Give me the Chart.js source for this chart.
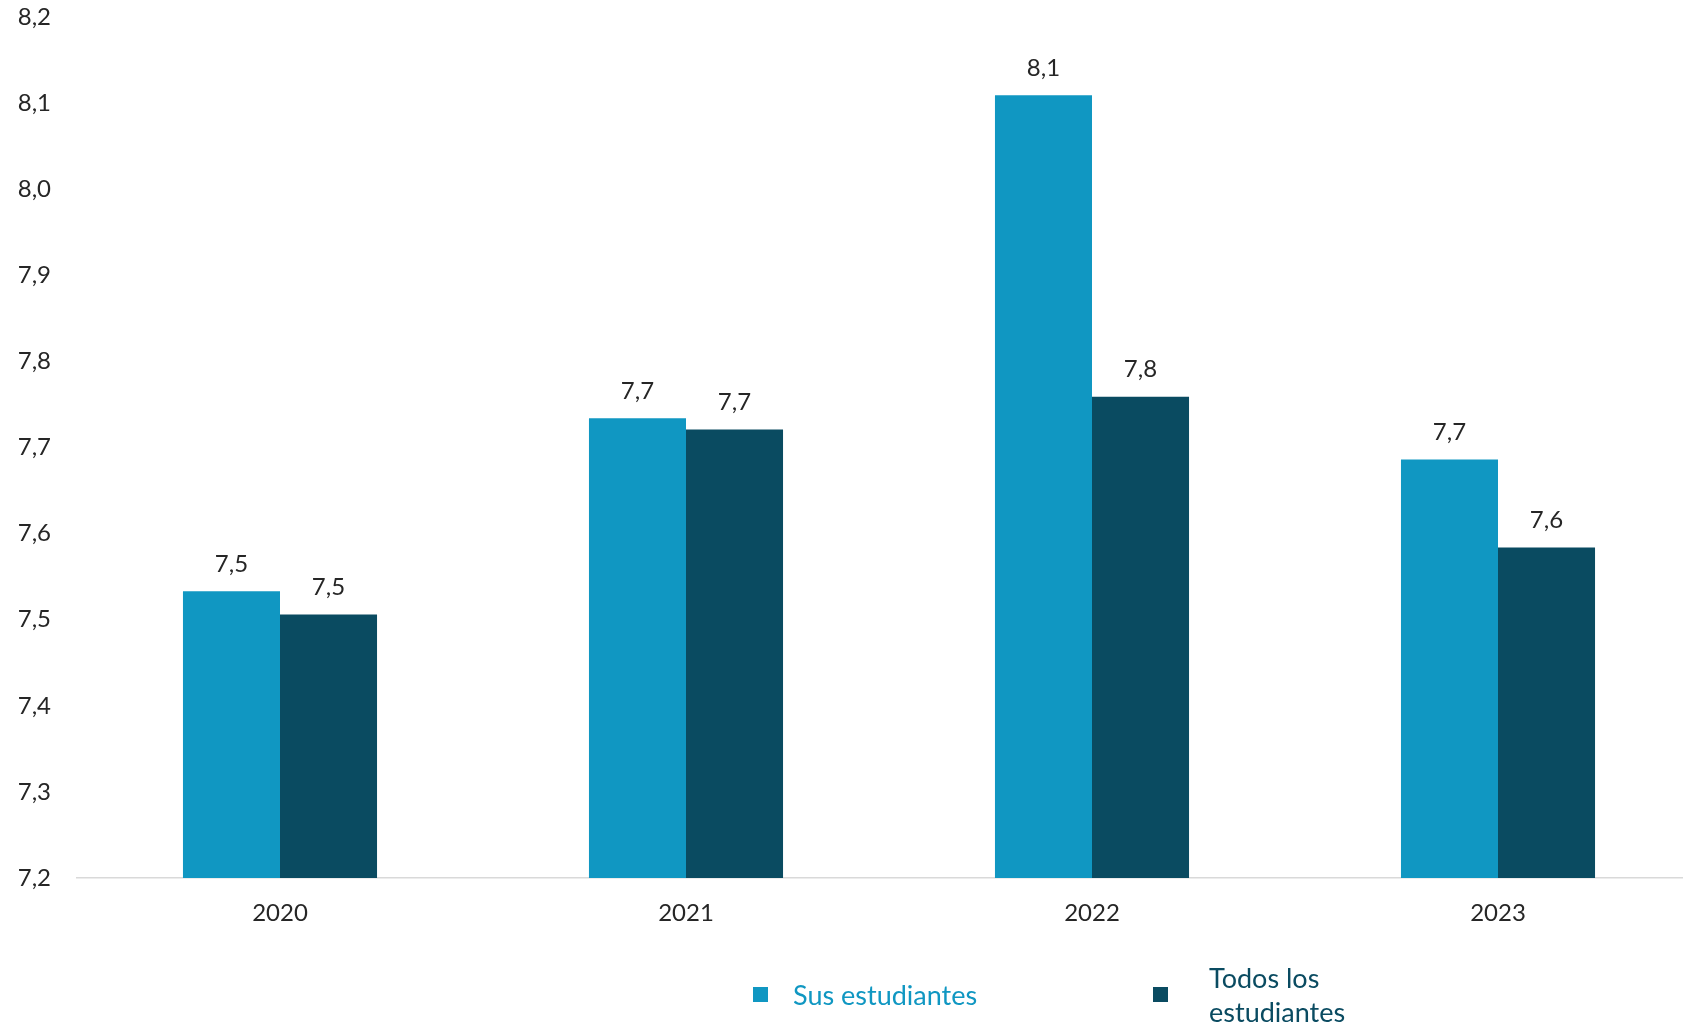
<!DOCTYPE html>
<html>
<head>
<meta charset="utf-8">
<script src="https://cdn.jsdelivr.net/npm/chart.js@4/dist/chart.umd.min.js"></script>
<style>
    html, body { margin: 0; padding: 0; background: #ffffff; overflow: hidden; }
    #wrap { position: relative; width: 1683px; height: 1025px; overflow: hidden; }
    #box { position: absolute; left: 0; top: 0; width: 1701px; height: 1025px; }
    .legend-item { position: absolute; font-family: Lato, sans-serif; font-size: 27px; line-height: 34px; white-space: nowrap; }
    .swatch { position: absolute; width: 15px; height: 15px; }
</style>
</head>
<body>
<div id="wrap">
    <div id="box"><canvas id="chart"></canvas></div>
    <div class="swatch" style="left:753px; top:987px; background:#1097c2;"></div>
    <div class="legend-item" style="left:793px; top:978px; color:#1097c2;">Sus estudiantes</div>
    <div class="swatch" style="left:1153px; top:987px; background:#0a4b61;"></div>
    <div class="legend-item" style="left:1209px; top:961px; color:#0a4b61;">Todos los<br>estudiantes</div>
</div>
<script>
    // Data
    const years = ['2020', '2021', '2022', '2023'];
    const susEstudiantes = [7.533, 7.734, 8.109, 7.686];
    const todosEstudiantes = [7.506, 7.721, 7.759, 7.584];
    const yTicks = [7.2, 7.3, 7.4, 7.5, 7.6, 7.7, 7.8, 7.9, 8.0, 8.1, 8.2];

    const SUS_COLOR = '#1097c2';
    const TODOS_COLOR = '#0a4b61';
    const TEXT_COLOR = '#262626';

    const fmt = v => v.toFixed(1).replace('.', ',');

    // Value labels above the bars
    const barLabels = {
        id: 'barLabels',
        afterDatasetsDraw(chart) {
            const ctx = chart.ctx;
            ctx.save();
            ctx.font = '24px Lato';
            ctx.fillStyle = TEXT_COLOR;
            ctx.textAlign = 'center';
            ctx.textBaseline = 'bottom';
            chart.data.datasets.forEach((ds, i) => {
                chart.getDatasetMeta(i).data.forEach((bar, j) => {
                    ctx.fillText(fmt(ds.data[j]), bar.x, bar.y - 15);
                });
            });
            ctx.restore();
        }
    };

    new Chart(document.getElementById('chart'), {
        type: 'bar',
        data: {
            labels: years,
            datasets: [
                { label: 'Sus estudiantes', data: susEstudiantes, backgroundColor: SUS_COLOR },
                { label: 'Todos los estudiantes', data: todosEstudiantes, backgroundColor: TODOS_COLOR }
            ]
        },
        options: {
            responsive: true,
            maintainAspectRatio: false,
            animation: false,
            categoryPercentage: 0.478,
            barPercentage: 1,
            layout: { padding: { top: 17, right: 0, bottom: 0, left: 0 } },
            plugins: {
                legend: { display: false },
                tooltip: { enabled: false }
            },
            scales: {
                x: {
                    grid: { display: false },
                    border: { display: true, color: '#d9d9d9', width: 1.5 },
                    ticks: { color: TEXT_COLOR, font: { family: 'Lato', size: 24 }, padding: 13 },
                    afterFit: scale => { scale.height = 147; }
                },
                y: {
                    min: 7.2,
                    max: 8.2,
                    afterBuildTicks: scale => { scale.ticks = yTicks.map(v => ({ value: v })); },
                    grid: { display: false, drawTicks: false },
                    border: { display: false },
                    ticks: {
                        color: TEXT_COLOR,
                        font: { family: 'Lato', size: 24 },
                        padding: 26,
                        callback: v => fmt(v)
                    },
                    afterFit: scale => {
                        scale.width = 77;
                        scale.paddingTop = 0;
                        scale.paddingBottom = 0;
                    }
                }
            }
        },
        plugins: [barLabels]
    });
</script>
</body>
</html>
